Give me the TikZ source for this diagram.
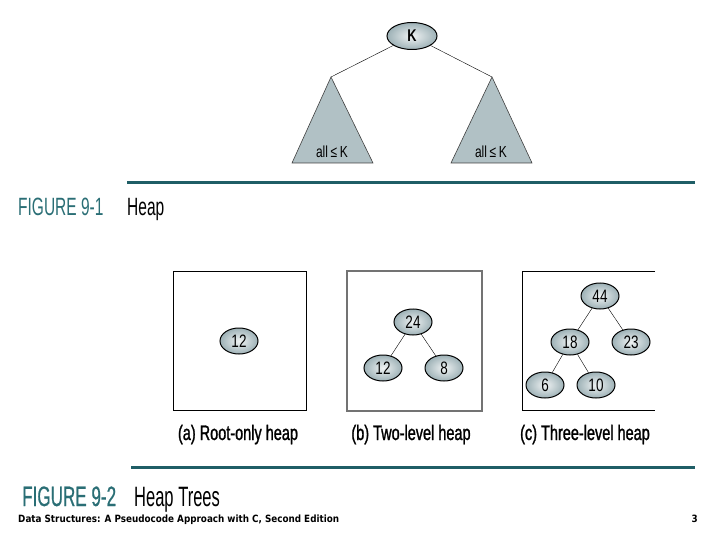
\documentclass[tikz,border=0pt]{standalone}
\usepackage{fontspec}
\setmainfont{Liberation Sans}
\newfontfamily\narrowfont[FakeStretch=0.75]{Liberation Sans}
\newfontfamily\labelfont[FakeStretch=0.69,FakeBold=1.2]{Liberation Sans}
\newfontfamily\figfont[FakeStretch=0.62]{Liberation Sans}
\newfontfamily\figtitlefont[FakeStretch=0.59]{Liberation Sans}
\newfontfamily\figbigfont[FakeStretch=0.61,FakeBold=0.6]{Liberation Sans}
\newfontfamily\footfont[FakeStretch=0.88]{DejaVu Sans}
\usetikzlibrary{shapes.geometric}
\definecolor{tealrule}{HTML}{1F5E66}
\definecolor{tealtext}{HTML}{2A6E75}
\definecolor{nodefill}{HTML}{9DB1B6}
\tikzset{
  heapnode/.style={ellipse, draw, line width=1pt, inner color=nodefill!15, outer color=nodefill,
    minimum width=38pt, minimum height=26pt, inner sep=0pt, font=\narrowfont\fontsize{18}{18}\selectfont},
  subtree/.style={draw=black!75, line width=0.6pt, fill=nodefill!80},
  heapframe/.style={draw, line width=0.9pt},
  sublabel/.style={font=\labelfont\fontsize{21}{21}\selectfont, anchor=base},
  figrule/.style={draw=tealrule, line width=3pt},
}
\begin{document}
\begin{tikzpicture}[x=1pt,y=-1pt]
  \useasboundingbox (0,0) rectangle (720,540);
  % FIGURE 9-1
  \node[heapnode, minimum width=50pt, minimum height=27pt, font=\narrowfont\bfseries\fontsize{17}{17}\selectfont] (k) at (412,36) {K};
  \coordinate (lapex) at (331,77);
  \coordinate (rapex) at (492,77);
  \draw[subtree] (lapex) -- (292,163) -- (373,163) -- cycle;
  \draw[subtree] (rapex) -- (451,163) -- (532,163) -- cycle;
  \draw (k) -- (lapex);
  \draw (k) -- (rapex);
  \node[font=\narrowfont\fontsize{16}{16}\selectfont] (lall) at (332,152) {all\,≤\,K};
  \node[font=\narrowfont\fontsize{16}{16}\selectfont] (rall) at (491,152) {all\,≤\,K};
  \coordinate (rule1a) at (127,183);
  \coordinate (rule1b) at (695,183);
  \draw[figrule] (rule1a) -- (rule1b);
  \node[anchor=base west, inner sep=0pt, text=tealtext, font=\figfont\fontsize{25}{25}\selectfont] (fig1) at (18,215) {FIGURE 9-1};
  \node[anchor=base west, inner sep=0pt, font=\figfont\fontsize{25}{25}\selectfont] (fig1t) at (127,215) {Heap};
  % FIGURE 9-2 (a)
  \draw[heapframe] (173,271) rectangle (306,410);
  \node[heapnode] (a12) at (239,341) {12};
  % (b)
  \draw[heapframe, draw=black!55, line width=1.2pt] (347,271) rectangle (482,411);
  \node[heapnode] (b24) at (413,322) {24};
  \node[heapnode] (b12) at (383,368) {12};
  \node[heapnode] (b8) at (444,368) {8};
  \draw (b24) -- (b12);
  \draw (b24) -- (b8);
  % (c)
  \draw[heapframe] (655,271) -- (522,271) -- (522,410) -- (655,410);
  \node[heapnode] (c44) at (600,296) {44};
  \node[heapnode] (c18) at (570,342) {18};
  \node[heapnode] (c23) at (631,342) {23};
  \node[heapnode] (c6) at (545,385) {6};
  \node[heapnode] (c10) at (596,385) {10};
  \draw (c44) -- (c18);
  \draw (c44) -- (c23);
  \draw (c18) -- (c6);
  \draw (c18) -- (c10);
  \node[sublabel] (la) at (238,440) {(a) Root-only heap};
  \node[sublabel] (lb) at (411,440) {(b) Two-level heap};
  \node[sublabel] (lc) at (585,440) {(c) Three-level heap};
  \coordinate (rule2a) at (131,467);
  \coordinate (rule2b) at (695,467);
  \draw[figrule] (rule2a) -- (rule2b);
  \node[anchor=base west, inner sep=0pt, text=tealtext, font=\figbigfont\fontsize{28}{28}\selectfont] (fig2) at (22,506) {FIGURE 9-2};
  \node[anchor=base west, inner sep=0pt, font=\figtitlefont\fontsize{28}{28}\selectfont] (fig2t) at (134,506) {Heap Trees};
  % footer
  \node[anchor=base west, inner sep=0pt, font=\footfont\bfseries\fontsize{10}{10}\selectfont] (foot) at (18,522) {Data Structures: A Pseudocode Approach with C, Second Edition};
  \node[anchor=base east, inner sep=0pt, font=\footfont\bfseries\fontsize{10}{10}\selectfont] (page) at (698,522) {3};
\end{tikzpicture}
\end{document}
